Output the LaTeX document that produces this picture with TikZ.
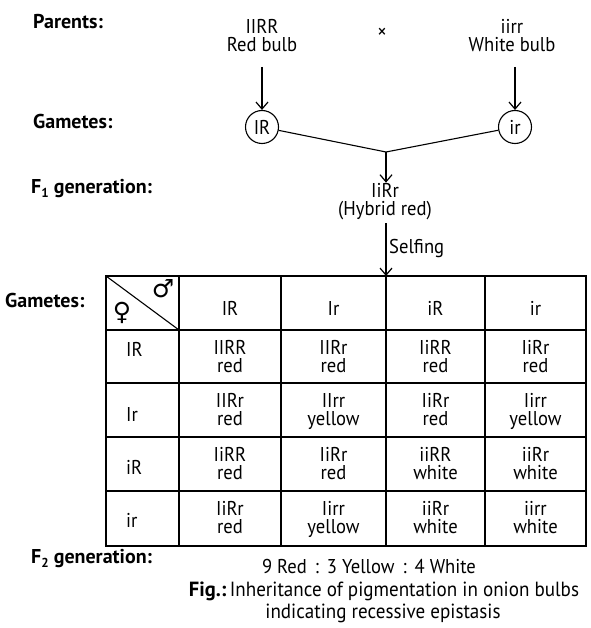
\documentclass[tikz,border=0pt]{standalone}
\usepackage{fontspec}
\setmainfont{PT Sans}[FakeStretch=0.93]
\newfontfamily\lblfont{PT Sans}
\newfontfamily\symfont{DejaVu Sans}
\usetikzlibrary{arrows.meta}
\begin{document}
\begin{tikzpicture}[x=1pt,y=-1pt,
 lbl/.style={font=\lblfont\fontsize{20}{22}\selectfont\bfseries, anchor=base west, inner sep=0},
 txt/.style={font=\fontsize{20}{22}\selectfont, anchor=base, inner sep=0},
 gam/.style={circle, draw, line width=1.1pt, minimum size=33pt, inner sep=0, font=\fontsize{20}{22}\selectfont},
 arr/.style={-{Straight Barb[length=7pt,width=12pt,line width=1.2pt]}, line width=1.2pt},
 gridline/.style={line width=1.6pt}]
\useasboundingbox (0,0) rectangle (590,628);
% left labels
\node[lbl] (lpar) at (33,29) {Parents:};
\node[lbl] (lgam) at (33,129) {Gametes:};
\node[lbl] (lf1) at (31,194) {F\raisebox{-0.4ex}{\fontsize{13}{13}\selectfont 1} generation:};
\node[lbl] (lgam2) at (5,307) {Gametes:};
\node[lbl] (lf2) at (31,563) {F\raisebox{-0.4ex}{\fontsize{13}{13}\selectfont 2} generation:};
% parents
\node[txt] (p1a) at (262,34) {IIRR};
\node[txt] (p1) at (262,52) {Red bulb};
\node[txt] (cross) at (382,39) {×};
\node[txt] (p2a) at (512,34) {iirr};
\node[txt] (p2) at (512,52) {White bulb};
% gametes
\node[gam] (g1) at (262,127) {IR};
\node[gam] (g2) at (515,127) {ir};
\coordinate (j) at (386,152);
\coordinate (a1) at (262,67);
\coordinate (a2) at (515,67);
\draw[arr] (a1) -- (g1.north);
\draw[arr] (a2) -- (g2.north);
\draw[line width=1.1pt] (g1) -- (j) -- (g2);
% F1
\node[txt] (f1a) at (385,198) {IiRr};
\node[txt] (f1) at (385,215.5) {(Hybrid red)};
\draw[arr, shorten >=1pt] (j) -- (f1a.north -| j);
\coordinate (tabtop) at (386,276);
\draw[arr, shorten <=3pt] (f1.south -| tabtop) -- (tabtop);
\node[txt, anchor=base west] (self) at (389,253) {Selfing};
% table
\draw[gridline] (106,276) rectangle (586,546);
\foreach \x in {179,281,386,485} \draw[gridline] (\x,276) -- (\x,546);
\foreach \y in {330,383,437,491} \draw[gridline] (106,\y) -- (586,\y);
\draw[line width=1.1pt] (106,276) -- (179,330);
\node[font=\symfont\fontsize{25}{25}\selectfont, inner sep=0] (fem) at (122,313) {♀};
\node[font=\symfont\fontsize{25}{25}\selectfont, inner sep=0] (mal) at (163,289) {♂};
% header
\node[txt] (h1) at (230,315) {IR};
\node[txt] (h2) at (333.5,315) {Ir};
\node[txt] (h3) at (435.5,315) {iR};
\node[txt] (h4) at (535.5,315) {ir};
% row labels
\node[txt, anchor=base west] (r1) at (126,356) {IR};
\node[txt, anchor=base west] (r2) at (126,421) {Ir};
\node[txt, anchor=base west] (r3) at (126,474) {iR};
\node[txt, anchor=base west] (r4) at (126,527) {ir};
% cells
\foreach \r/\top in {1/330,2/383,3/437,4/491}{
  \foreach \c/\x in {1/230,2/333.5,3/435.5,4/535.5}{
    \coordinate (b\r\c) at (\x,\top);
  }
}
\foreach \r/\c/\g/\p in {1/1/IIRR/red,1/2/IIRr/red,1/3/IiRR/red,1/4/IiRr/red,
  2/1/IIRr/red,2/2/IIrr/yellow,2/3/IiRr/red,2/4/Iirr/yellow,
  3/1/IiRR/red,3/2/IiRr/red,3/3/iiRR/white,3/4/iiRr/white,
  4/1/IiRr/red,4/2/Iirr/yellow,4/3/iiRr/white,4/4/iirr/white}{
  \node[txt] (c\r\c g) at ([yshift=-24.5pt]b\r\c) {\g};
  \node[txt] (c\r\c p) at ([yshift=-42.5pt]b\r\c) {\p};
}
% bottom text
\node[txt] (ratio) at (369,573) {9 Red\hspace{0.4em}:\hspace{0.4em}3 Yellow\hspace{0.4em}:\hspace{0.4em}4 White};
\node[txt, font=\fontsize{20.5}{22}\selectfont] (cap1) at (384,596) {{\lblfont\bfseries Fig.:}\,Inheritance of pigmentation in onion bulbs};
\node[txt, font=\fontsize{20.5}{22}\selectfont] (cap2) at (383,618) {indicating recessive epistasis};
\end{tikzpicture}
\end{document}
